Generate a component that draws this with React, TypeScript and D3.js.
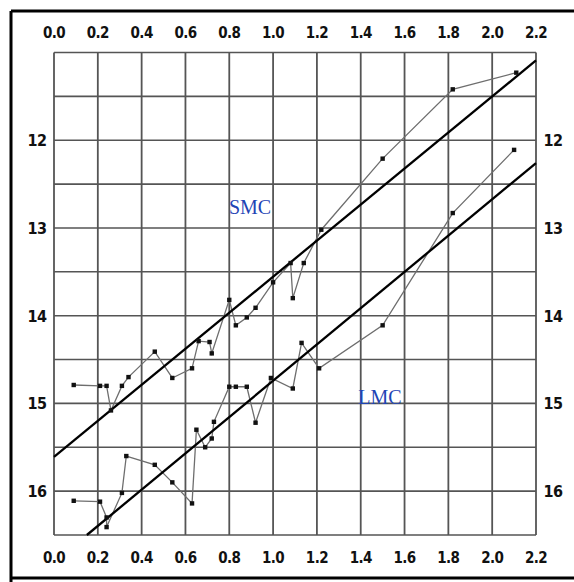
import React from "react";
import * as d3 from "d3";

// Period (x) vs magnitude (y, inverted) for two clouds, each with a fitted line
const xTicks = [0.0, 0.2, 0.4, 0.6, 0.8, 1.0, 1.2, 1.4, 1.6, 1.8, 2.0, 2.2];
const yGrid = [11.5, 12, 12.5, 13, 13.5, 14, 14.5, 15, 15.5, 16];
const yLabels = [12, 13, 14, 15, 16];

const smcX = [0.09, 0.21, 0.24, 0.26, 0.31, 0.34, 0.46, 0.54, 0.63, 0.66, 0.71, 0.72, 0.80, 0.83, 0.88, 0.92, 1.0, 1.08, 1.09, 1.14, 1.22, 1.50, 1.82, 2.11];
const smcY = [14.79, 14.8, 14.8, 15.08, 14.8, 14.7, 14.41, 14.71, 14.6, 14.29, 14.3, 14.43, 13.82, 14.11, 14.02, 13.91, 13.62, 13.4, 13.8, 13.4, 13.02, 12.21, 11.42, 11.23];

const lmcX = [0.09, 0.21, 0.24, 0.24, 0.31, 0.33, 0.46, 0.54, 0.63, 0.65, 0.69, 0.72, 0.73, 0.80, 0.83, 0.88, 0.92, 0.99, 1.09, 1.13, 1.21, 1.50, 1.82, 2.10];
const lmcY = [16.11, 16.12, 16.3, 16.41, 16.02, 15.6, 15.7, 15.9, 16.14, 15.3, 15.5, 15.4, 15.21, 14.81, 14.81, 14.81, 15.22, 14.71, 14.83, 14.31, 14.6, 14.11, 12.83, 12.11];

// Fitted relations: [x0, y0, x1, y1]
const smcFit = [0.0, 15.61, 2.2, 11.09];
const lmcFit = [0.15, 16.5, 2.2, 12.26];

const W = 574;
const H = 582;
const left = 54, right = 536, top = 52.5, bottom = 535;

export default function App() {
  const x = d3.scaleLinear().domain([0, 2.2]).range([left, right]);
  const y = d3.scaleLinear().domain([11, 16.5]).range([top, bottom]);

  const line = d3
    .line<[number, number]>()
    .x((d) => x(d[0]))
    .y((d) => y(d[1]));

  const smc: [number, number][] = smcX.map((v, i) => [v, smcY[i]]);
  const lmc: [number, number][] = lmcX.map((v, i) => [v, lmcY[i]]);

  const tickFont = "'DejaVu Sans Condensed', 'Liberation Sans Narrow', 'DejaVu Sans', sans-serif";
  const gridColor = "#555";

  return (
    <svg
      width={W}
      height={H}
      style={{ position: "absolute", left: 0, top: 0, background: "#fff" }}
    >
      {/* outer frame */}
      <line x1={11} y1={11} x2={574} y2={11} stroke="#000" strokeWidth={3} />
      <line x1={11} y1={11} x2={11} y2={582} stroke="#000" strokeWidth={3} />
      <line x1={11} y1={578} x2={574} y2={578} stroke="#000" strokeWidth={3} />

      {/* grid */}
      {xTicks.map((t) => (
        <line
          key={"vx" + t}
          x1={x(t)}
          x2={x(t)}
          y1={top}
          y2={bottom}
          stroke={gridColor}
          strokeWidth={1.8}
        />
      ))}
      {[11, ...yGrid, 16.5].map((t) => (
        <line
          key={"hy" + t}
          x1={left}
          x2={right}
          y1={y(t)}
          y2={y(t)}
          stroke={gridColor}
          strokeWidth={1.6}
        />
      ))}

      {/* x tick labels, top and bottom */}
      {xTicks.map((t) => (
        <g key={"xl" + t} fontFamily={tickFont} fontWeight="bold" fontSize={15} fill="#111" textAnchor="middle" letterSpacing={-0.6}>
          <text x={x(t)} y={38}>{t.toFixed(1)}</text>
          <text x={x(t)} y={563}>{t.toFixed(1)}</text>
        </g>
      ))}

      {/* y tick labels, left and right */}
      {yLabels.map((t) => (
        <g key={"yl" + t} fontFamily={tickFont} fontWeight="bold" fontSize={16} fill="#111" textAnchor="middle" letterSpacing={-0.6}>
          <text x={37} y={y(t) + 6}>{t}</text>
          <text x={553} y={y(t) + 6}>{t}</text>
        </g>
      ))}

      {/* connecting lines through the observations */}
      <path d={line(smc) ?? ""} fill="none" stroke="#6e6e6e" strokeWidth={1.3} />
      <path d={line(lmc) ?? ""} fill="none" stroke="#6e6e6e" strokeWidth={1.3} />

      {/* fitted lines */}
      <line
        x1={x(smcFit[0])}
        y1={y(smcFit[1])}
        x2={x(smcFit[2])}
        y2={y(smcFit[3])}
        stroke="#000"
        strokeWidth={2.3}
      />
      <line
        x1={x(lmcFit[0])}
        y1={y(lmcFit[1])}
        x2={x(lmcFit[2])}
        y2={y(lmcFit[3])}
        stroke="#000"
        strokeWidth={2.3}
      />

      {/* observation markers */}
      {[...smc, ...lmc].map((d, i) => (
        <rect
          key={"p" + i}
          x={x(d[0]) - 2.2}
          y={y(d[1]) - 2.2}
          width={4.4}
          height={4.4}
          fill="#111"
        />
      ))}

      {/* series names */}
      <text x={250} y={214} textAnchor="middle" fontFamily="'Liberation Serif', 'DejaVu Serif', serif" fontSize={20} fill="#1f45b5">
        SMC
      </text>
      <text x={380} y={404} textAnchor="middle" fontFamily="'Liberation Serif', 'DejaVu Serif', serif" fontSize={20} fill="#1f45b5">
        LMC
      </text>
    </svg>
  );
}
